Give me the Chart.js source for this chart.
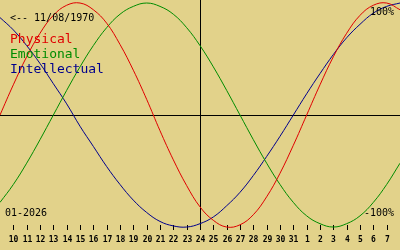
<!DOCTYPE html>
<html>
<head>
<meta charset="utf-8">
<script src="https://cdn.jsdelivr.net/npm/chart.js@4"></script>
<style>
  html, body { margin: 0; padding: 0; background: #e2d28a; }
  #wrap { width: 400px; height: 250px; }
</style>
</head>
<body>
<div id="wrap"><canvas id="bio" width="400" height="250"></canvas></div>
<script>
// day index -1 .. 29 (index 0 = Jan 10, index 14 = Jan 24)
const dayIndex = [-1, 0, 1, 2, 3, 4, 5, 6, 7, 8, 9, 10, 11, 12, 13, 14, 15, 16, 17, 18, 19, 20, 21, 22, 23, 24, 25, 26, 27, 28, 29];
const dayLabels = ["10", "11", "12", "13", "14", "15", "16", "17", "18", "19", "20", "21", "22", "23", "24", "25", "26", "27", "28", "29", "30", "31", "1", "2", "3", "4", "5", "6", "7"];

const physical = [0, 0.27, 0.52, 0.73, 0.89, 0.98, 1.00, 0.94, 0.82, 0.63, 0.40, 0.14, -0.14, -0.40, -0.63, -0.82, -0.94, -1.00, -0.98, -0.89, -0.73, -0.52, -0.27, 0, 0.27, 0.52, 0.73, 0.89, 0.98, 1.00, 0.94];
const emotional = [-0.78, -0.62, -0.43, -0.22, 0, 0.22, 0.43, 0.62, 0.78, 0.90, 0.97, 1.00, 0.97, 0.90, 0.78, 0.62, 0.43, 0.22, 0, -0.22, -0.43, -0.62, -0.78, -0.90, -0.97, -1.00, -0.97, -0.90, -0.78, -0.62, -0.43];
const intellectual = [0.87, 0.76, 0.62, 0.46, 0.28, 0.10, -0.10, -0.28, -0.46, -0.62, -0.76, -0.87, -0.95, -0.99, -1.00, -0.97, -0.91, -0.81, -0.69, -0.54, -0.37, -0.19, 0, 0.19, 0.37, 0.54, 0.69, 0.81, 0.91, 0.97, 1.00];

const todayIndex = 14;
const birthText = "<-- 11/08/1970";
const monthText = "01-2026";

const bg = "#e2d28a";
const red = "#e00000";
const green = "#008c00";
const blue = "#00008c";

function pts(vals) {
  return vals.map((v, i) => ({ x: dayIndex[i], y: v }));
}

const decor = {
  id: "decor",
  beforeDraw(chart) {
    const ctx = chart.ctx;
    ctx.save();
    ctx.fillStyle = bg;
    ctx.fillRect(0, 0, chart.width, chart.height);
    ctx.restore();
  },
  beforeDatasetsDraw(chart) {
    const ctx = chart.ctx;
    const xs = chart.scales.x;
    const ys = chart.scales.y;
    const y0 = Math.round(ys.getPixelForValue(0)) + 0.5;
    const xc = Math.round(xs.getPixelForValue(todayIndex)) + 0.5;
    ctx.save();
    ctx.strokeStyle = "#000";
    ctx.lineWidth = 1;
    ctx.beginPath();
    ctx.moveTo(0, y0);
    ctx.lineTo(chart.width, y0);
    ctx.moveTo(xc, 0);
    ctx.lineTo(xc, 230);
    ctx.stroke();

    // day ticks and labels
    ctx.font = "bold 8px 'DejaVu Sans Mono'";
    ctx.textAlign = "center";
    ctx.textBaseline = "alphabetic";
    ctx.fillStyle = "#000";
    dayLabels.forEach((lab, i) => {
      const x = Math.round(xs.getPixelForValue(i)) + 0.5;
      ctx.beginPath();
      ctx.moveTo(x, 225);
      ctx.lineTo(x, 230);
      ctx.stroke();
      ctx.fillText(lab, x, 242);
    });
    ctx.restore();
  },
  afterDatasetsDraw(chart) {
    const ctx = chart.ctx;
    ctx.save();
    ctx.textBaseline = "alphabetic";
    ctx.font = "10px 'DejaVu Sans Mono'";
    ctx.fillStyle = "#000";
    ctx.textAlign = "left";
    ctx.fillText(birthText, 10, 21);
    ctx.fillText(monthText, 5, 216);
    ctx.textAlign = "right";
    ctx.fillText("100%", 394, 15);
    ctx.fillText("-100%", 394, 216);

    ctx.textAlign = "left";
    ctx.font = "13px 'DejaVu Sans Mono'";
    ctx.fillStyle = red;
    ctx.fillText("Physical", 10, 43);
    ctx.fillStyle = green;
    ctx.fillText("Emotional", 10, 58);
    ctx.fillStyle = blue;
    ctx.fillText("Intellectual", 10, 73);
    ctx.restore();
  }
};

new Chart(document.getElementById("bio"), {
  type: "line",
  data: {
    datasets: [
      { label: "Physical", data: pts(physical), borderColor: red },
      { label: "Emotional", data: pts(emotional), borderColor: green },
      { label: "Intellectual", data: pts(intellectual), borderColor: blue }
    ]
  },
  options: {
    responsive: false,
    animation: false,
    layout: { padding: 0 },
    elements: {
      line: { borderWidth: 1, tension: 0.4, fill: false },
      point: { radius: 0, hoverRadius: 0 }
    },
    plugins: { legend: { display: false }, tooltip: { enabled: false } },
    scales: {
      x: { type: "linear", display: false, min: -1, max: 29 },
      y: { display: false, min: -1.205, max: 1.027 }
    }
  },
  plugins: [decor]
});
</script>
</body>
</html>
